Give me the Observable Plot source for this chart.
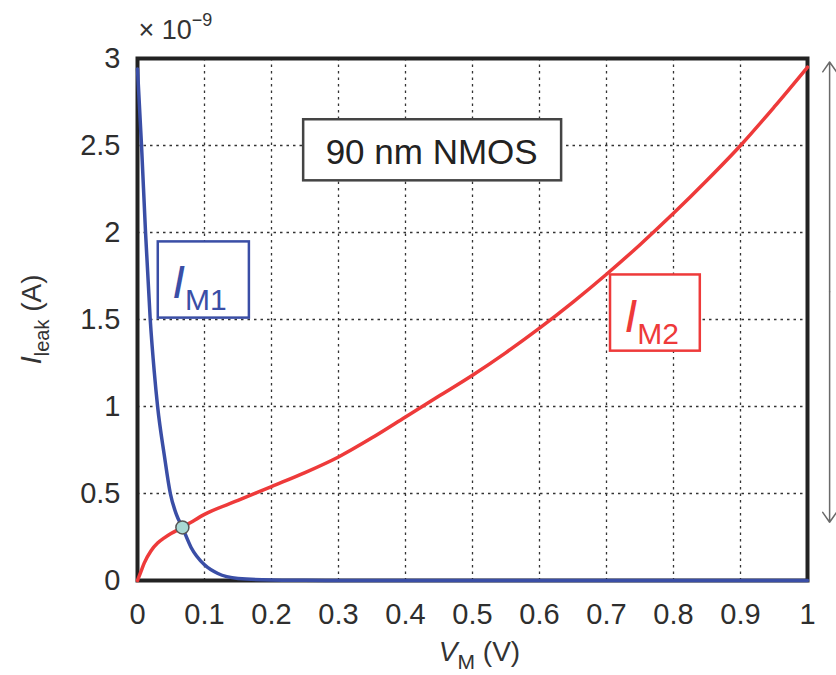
<!DOCTYPE html>
<html><head><meta charset="utf-8">
<script src="https://cdn.jsdelivr.net/npm/d3@7"></script>
<script src="https://cdn.jsdelivr.net/npm/@observablehq/plot@0.6"></script>
<style>body{margin:0;background:#fff}#chart{width:836px;height:675px}</style>
</head><body><div id="chart"></div>
<script>
// ---- data ----
const xTicks = [0, 0.1, 0.2, 0.3, 0.4, 0.5, 0.6, 0.7, 0.8, 0.9, 1];
const yTicks = [0, 0.5, 1, 1.5, 2, 2.5, 3];

// I_M2 (red) leakage vs V_M, units of 1e-9 A
const vmM2 = [0, 0.005, 0.01, 0.02, 0.03, 0.04, 0.05, 0.067, 0.08, 0.1, 0.15, 0.2, 0.25, 0.3, 0.35, 0.4, 0.45, 0.5, 0.55, 0.6, 0.65, 0.7, 0.75, 0.8, 0.85, 0.9, 0.95, 1.0];
const iM2  = [0, 0.05, 0.1, 0.17, 0.215, 0.245, 0.27, 0.305, 0.335, 0.38, 0.46, 0.54, 0.62, 0.71, 0.82, 0.94, 1.06, 1.18, 1.31, 1.45, 1.6, 1.76, 1.93, 2.11, 2.3, 2.5, 2.72, 2.95];

// I_M1 (blue)
const vmM1 = [0, 0.006, 0.012, 0.019, 0.025, 0.03, 0.04, 0.049, 0.058, 0.067, 0.08, 0.1, 0.12, 0.15, 0.2, 0.25, 0.3, 0.4, 0.5, 0.6, 0.7, 0.8, 0.9, 1.0];
const iM1  = [2.94, 2.5, 2.0, 1.5, 1.2, 1.0, 0.72, 0.5, 0.38, 0.305, 0.19, 0.09, 0.04, 0.012, 0.003, 0.001, 0, 0, 0, 0, 0, 0, 0, 0];

// crossing point
const crossVm = [0.067];
const crossI = [0.305];

// annotation labels
const noteLabels = ["90 nm NMOS", "IM1", "IM2"];
const noteX = [0.439, 0.052, 0.727];
const noteY = [2.458, 1.623, 1.428];
const boxX1 = [0.248, 0.031, 0.706];
const boxX2 = [0.633, 0.167, 0.840];
const boxY1 = [2.297, 1.508, 1.318];
const boxY2 = [2.648, 1.946, 1.756];

const blue = "#3a4ea6", red = "#ee3a3a";
const boxStroke = ["#444", blue, red];
const noteFill = ["#222", blue, red];

// range arrow at right (double headed)
const arrowX = [1.033, 1.033];
const arrowFrom = [1.66, 1.66];
const arrowTo = [2.98, 0.335];

const m2 = vmM2.map((x, i) => ({x, y: iM2[i]}));
const m1 = vmM1.map((x, i) => ({x, y: iM1[i]}));
const boxes = boxX1.map((x1, i) => ({x1, x2: boxX2[i], y1: boxY1[i], y2: boxY2[i], s: boxStroke[i]}));
const notes = noteLabels.map((t, i) => ({t, x: noteX[i], y: noteY[i], c: noteFill[i]}));
const arrows = arrowX.map((x, i) => ({x, y1: arrowFrom[i], y2: arrowTo[i]}));

const RICH = {
  "x10^-9": [{t: "× 10", fs: 27}, {t: "−9", fs: 18, dy: -13}],
  "IM1": [{t: "I", fs: 46, it: true}, {t: "M1", fs: 30, dy: 12}],
  "IM2": [{t: "I", fs: 46, it: true}, {t: "M2", fs: 30, dy: 12}],
  "Ileak (A)": [{t: "I", fs: 30, it: true}, {t: "leak", fs: 20, dy: 8}, {t: " (A)", fs: 28, dy: 0}],
  "VM (V)": [{t: "V", fs: 28, it: true}, {t: "M", fs: 21, dy: 8}, {t: " (V)", fs: 28, dy: 0}]
};

const fmt = d => String(d);

const chart = Plot.plot({
  width: 836,
  height: 675,
  marginLeft: 137,
  marginRight: 29,
  marginTop: 58,
  marginBottom: 95,
  style: {fontFamily: "'Liberation Sans', Arial, sans-serif", fontSize: "29px", color: "#2e2e2e", background: "#fff"},
  x: {domain: [0, 1], ticks: xTicks, tickFormat: fmt, tickSize: 0, tickPadding: 23, label: null},
  y: {domain: [0, 3], ticks: yTicks, tickFormat: fmt, tickSize: 0, tickPadding: 17, label: null},
  marks: [
    Plot.ruleX(xTicks, {stroke: "#333", strokeWidth: 1.3, strokeDasharray: "2.5,4"}),
    Plot.ruleY(yTicks, {stroke: "#333", strokeWidth: 1.3, strokeDasharray: "2.5,4"}),
    Plot.rect(boxes, {x1: "x1", x2: "x2", y1: "y1", y2: "y2", fill: "#fff", stroke: d => d.s, strokeWidth: 2.5}),
    Plot.frame({stroke: "#222", strokeWidth: 4}),
    Plot.line(m2, {x: "x", y: "y", stroke: red, strokeWidth: 3.5, curve: "monotone-x"}),
    Plot.line(m1, {x: "x", y: "y", stroke: blue, strokeWidth: 3.5, curve: "monotone-x"}),
    Plot.dot(crossVm.map((x, i) => ({x, y: crossI[i]})), {x: "x", y: "y", r: 6.5, fill: "#a9d9d4", stroke: "#555", strokeWidth: 1.5}),
    Plot.text(notes.slice(0, 1), {x: "x", y: "y", text: "t", fill: "c", fontSize: 35, textAnchor: "middle"}),
    Plot.text(notes.slice(1), {x: "x", y: "y", text: "t", fill: "c", fontSize: 30, textAnchor: "start", lineAnchor: "bottom"}),
    Plot.arrow(arrows, {x1: "x", x2: "x", y1: "y1", y2: "y2", stroke: "#6a6a6a", strokeWidth: 1.5, headLength: 12, headAngle: 70}),
    Plot.text(["x10^-9"], {frameAnchor: "top-left", text: d => d, textAnchor: "start", lineAnchor: "bottom", dx: 1, dy: -20, fill: "#333", fontSize: 27}),
    Plot.text(["VM (V)"], {frameAnchor: "bottom", text: d => d, textAnchor: "middle", lineAnchor: "bottom", dx: 7, dy: 80, fill: "#333", fontSize: 28}),
    Plot.text(["Ileak (A)"], {frameAnchor: "left", text: d => d, textAnchor: "middle", lineAnchor: "bottom", rotate: -90, dx: -97, dy: 0, fill: "#333", fontSize: 28})
  ]
});

function richText(svg) {
  svg.querySelectorAll("text").forEach(el => {
    const spec = RICH[el.textContent];
    if (!spec) return;
    el.textContent = "";
    el.style.whiteSpace = "pre";
    let shift = 0;
    for (const p of spec) {
      const ts = document.createElementNS("http://www.w3.org/2000/svg", "tspan");
      ts.textContent = p.t;
      ts.setAttribute("font-size", p.fs);
      if (p.it) ts.setAttribute("font-style", "italic");
      const target = p.dy || 0;
      if (target !== shift) { ts.setAttribute("dy", target - shift); shift = target; }
      el.appendChild(ts);
    }
  });
}
richText(chart);
document.getElementById("chart").appendChild(chart);
</script>
</body></html>
